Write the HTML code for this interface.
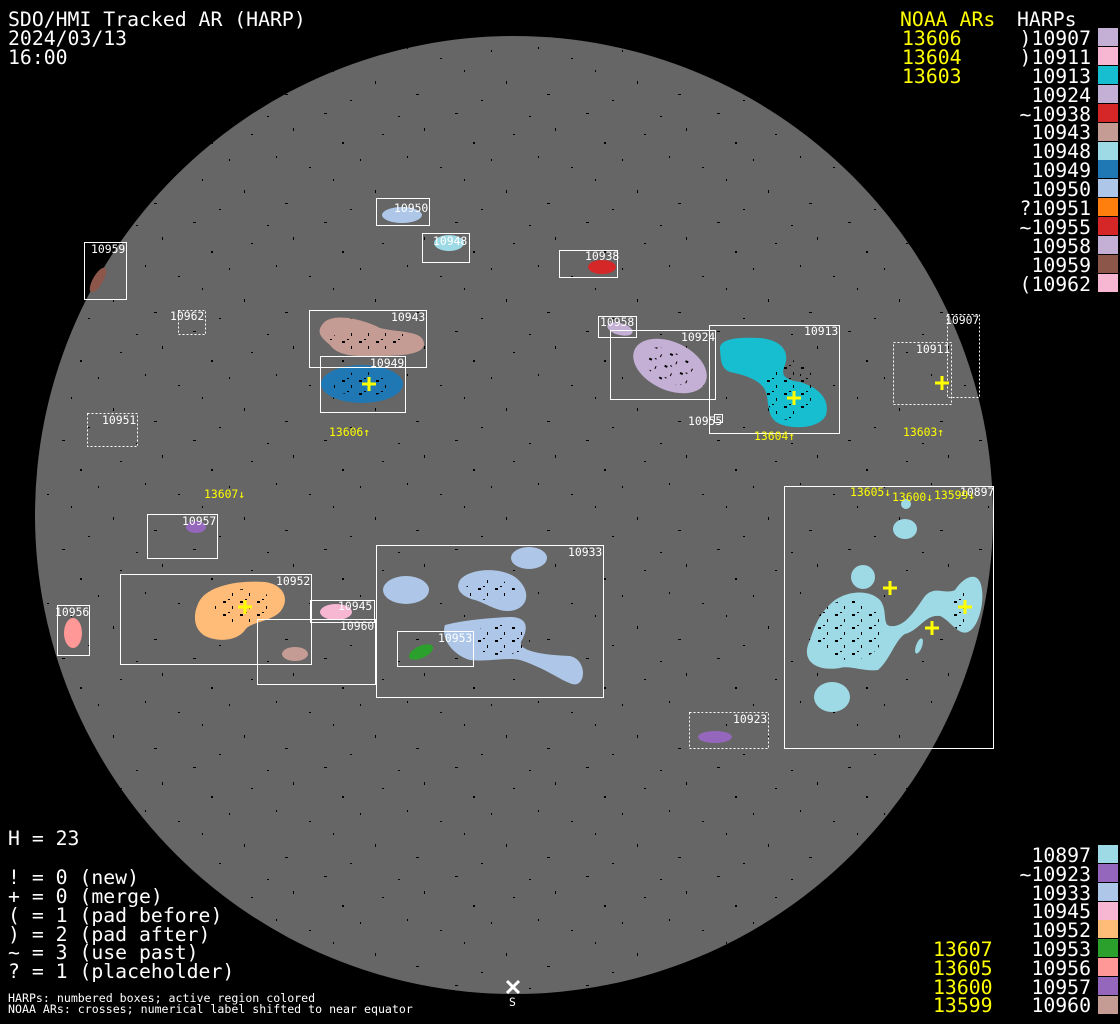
<!DOCTYPE html>
<html><head><meta charset="utf-8"><style>
html,body{margin:0;padding:0;background:#000;}
svg{display:block}
text{font-family:"DejaVu Sans Mono","Liberation Mono",monospace;}
.t{font-size:19.8px;fill:#fff}
.y{font-size:19.8px;fill:#ffff00}
.s{font-size:11.4px;fill:#fff}
.sm{font-size:11.6px;fill:#fff}
.sy{font-size:11.4px;fill:#ffff00}
.b{fill:none;stroke:#fff;stroke-width:1}
.d{fill:none;stroke:#fff;stroke-width:1;stroke-dasharray:2,2}
.x{stroke:#ffff00;stroke-width:3}
</style></head><body>
<svg width="1120" height="1024" viewBox="0 0 1120 1024" xmlns="http://www.w3.org/2000/svg">
<defs>
<pattern id="sp" x="0" y="0" width="131" height="109" patternUnits="userSpaceOnUse">
<rect x="5" y="7" width="2" height="1" fill="#000"/><rect x="31" y="19" width="1" height="3" fill="#000"/>
<rect x="62" y="4" width="3" height="1" fill="#000"/><rect x="80" y="33" width="2" height="2" fill="#000"/>
<rect x="14" y="47" width="1" height="2" fill="#000"/><rect x="47" y="58" width="2" height="1" fill="#000"/>
<rect x="71" y="70" width="1" height="2" fill="#000"/><rect x="23" y="94" width="3" height="1" fill="#000"/>
<rect x="113" y="81" width="1" height="3" fill="#000"/><rect x="120" y="25" width="2" height="1" fill="#000"/>
<rect x="98" y="50" width="1" height="2" fill="#000"/><rect x="88" y="100" width="2" height="1" fill="#000"/>
</pattern>
<pattern id="dk" x="0" y="0" width="17" height="13" patternUnits="userSpaceOnUse">
<rect x="2" y="3" width="3" height="2" fill="#000"/><rect x="11" y="8" width="1" height="3" fill="#000"/><rect x="7" y="1" width="2" height="1" fill="#000"/>
</pattern>
<clipPath id="dc"><circle cx="514" cy="515" r="479"/></clipPath>
</defs>
<rect width="1120" height="1024" fill="#000"/>
<circle cx="514" cy="515" r="479" fill="#666"/>
<rect x="0" y="0" width="1120" height="1024" fill="url(#sp)" clip-path="url(#dc)"/>

<g id="bl">
<ellipse cx="402" cy="215" rx="20" ry="8" fill="#aec7e8"/>
<ellipse cx="449" cy="243" rx="15" ry="8" fill="#9edae5"/>
<ellipse cx="98" cy="280" rx="5" ry="14" fill="#8c564b" transform="rotate(30 98 280)"/>
<ellipse cx="602" cy="267" rx="14" ry="7" fill="#d62728"/>
<path d="M322,325 C330,312 360,318 380,328 C400,333 425,330 424,345 C422,356 395,356 370,356 C345,357 335,352 330,345 C322,338 316,333 322,325Z" fill="#c49c94"/>
<ellipse cx="362" cy="384" rx="41" ry="19" fill="#1f77b4"/>
<ellipse cx="620" cy="329" rx="13" ry="6" fill="#c5b0d5" transform="rotate(15 620 329)"/>
<ellipse cx="670" cy="366" rx="39" ry="24" fill="#c5b0d5" transform="rotate(25 670 366)"/>
<path d="M720,350 C718,338 740,337 760,338 C780,340 790,350 785,365 C780,375 785,380 800,382 C820,388 830,400 826,415 C820,428 795,430 780,424 C765,418 770,400 765,390 C760,380 745,375 730,372 C720,368 721,358 720,350Z" fill="#17becf"/>
<ellipse cx="196" cy="527" rx="10" ry="6" fill="#9467bd"/>
<path d="M200,600 C210,585 240,580 265,582 C285,585 290,600 280,612 C270,622 250,622 245,630 C238,640 220,643 205,636 C192,628 193,612 200,600Z" fill="#ffbb78"/>
<ellipse cx="336" cy="612" rx="16" ry="8" fill="#f7b6d2"/>
<ellipse cx="295" cy="654" rx="13" ry="7" fill="#c49c94"/>
<ellipse cx="406" cy="590" rx="23" ry="14" fill="#aec7e8"/>
<path d="M460,580 C470,568 500,567 515,577 C530,588 530,605 515,610 C500,614 490,605 475,600 C460,596 455,588 460,580Z" fill="#aec7e8"/>
<ellipse cx="529" cy="558" rx="18" ry="11" fill="#aec7e8"/>
<path d="M445,625 C465,620 490,618 510,617 C525,617 530,625 522,640 C515,650 540,655 570,656 C588,660 586,688 572,684 C560,680 545,668 520,660 C505,657 490,662 470,660 C455,656 440,640 445,625Z" fill="#aec7e8"/>
<ellipse cx="421" cy="652" rx="13" ry="6" fill="#2ca02c" transform="rotate(-25 421 652)"/>
<ellipse cx="73" cy="633" rx="9" ry="15" fill="#ff9896"/>
<ellipse cx="715" cy="737" rx="17" ry="6" fill="#9467bd"/>
<ellipse cx="906" cy="504" rx="5" ry="5" fill="#9edae5"/>
<ellipse cx="905" cy="529" rx="12" ry="10" fill="#9edae5"/>
<ellipse cx="863" cy="577" rx="12" ry="12" fill="#9edae5"/>
<ellipse cx="832" cy="697" rx="18" ry="15" fill="#9edae5"/>
<ellipse cx="919" cy="646" rx="3" ry="8" fill="#9edae5" transform="rotate(20 919 646)"/>
<path d="M835,600 C850,590 870,590 880,600 C888,610 882,625 890,626 C905,628 915,610 925,596 C935,585 945,595 955,590 C965,575 980,570 982,590 C984,605 978,628 968,632 C958,636 950,620 940,616 C925,614 920,630 905,634 C895,640 890,660 878,670 C865,672 850,665 840,668 C815,672 800,660 810,640 C815,625 820,612 835,600Z" fill="#9edae5"/>
</g>
<!-- specks in active regions -->
<g fill="url(#dk)">
<ellipse cx="362" cy="384" rx="30" ry="12"/>
<ellipse cx="370" cy="340" rx="40" ry="10"/>
<ellipse cx="670" cy="366" rx="28" ry="16" transform="rotate(25 670 366)"/>
<ellipse cx="790" cy="390" rx="25" ry="30"/>
<ellipse cx="245" cy="607" rx="30" ry="18"/>
<ellipse cx="500" cy="640" rx="30" ry="15"/>
<ellipse cx="490" cy="590" rx="25" ry="10"/>
<ellipse cx="850" cy="630" rx="35" ry="30"/>
<ellipse cx="960" cy="610" rx="10" ry="20"/>
</g>

<!-- boxes -->
<rect class="b" x="376.5" y="198.5" width="53" height="27"/>
<rect class="b" x="422.5" y="233.5" width="47" height="29"/>
<rect class="b" x="84.5" y="242.5" width="42" height="57"/>
<rect class="b" x="559.5" y="250.5" width="58" height="27"/>
<rect class="d" x="178.5" y="310.5" width="27" height="24"/>
<rect class="b" x="309.5" y="310.5" width="117" height="57"/>
<rect class="b" x="320.5" y="356.5" width="85" height="56"/>
<rect class="b" x="598.5" y="316.5" width="38" height="21"/>
<rect class="b" x="610.5" y="330.5" width="105" height="69"/>
<rect class="b" x="709.5" y="325.5" width="130" height="108"/>
<rect class="d" x="947.5" y="314.5" width="32" height="83"/>
<rect class="d" x="893.5" y="342.5" width="58" height="62"/>
<rect class="d" x="87.5" y="413.5" width="50" height="33"/>
<rect class="b" x="714.5" y="414.5" width="8" height="8"/>
<rect class="b" x="147.5" y="514.5" width="70" height="44"/>
<rect class="b" x="120.5" y="574.5" width="191" height="90"/>
<rect class="b" x="310.5" y="600.5" width="64" height="22"/>
<rect class="b" x="257.5" y="619.5" width="118" height="65"/>
<rect class="b" x="376.5" y="545.5" width="227" height="152"/>
<rect class="b" x="397.5" y="631.5" width="76" height="35"/>
<rect class="b" x="57.5" y="605.5" width="32" height="50"/>
<rect class="d" x="689.5" y="712.5" width="79" height="36"/>
<rect class="b" x="784.5" y="486.5" width="209" height="262"/>

<g class="s">
<text x="394" y="212">10950</text><text x="433" y="245">10948</text>
<text x="91" y="253">10959</text><text x="585" y="260">10938</text>
<text x="170" y="320">10962</text><text x="391" y="321">10943</text>
<text x="370" y="367">10949</text><text x="600" y="326">10958</text>
<text x="681" y="341">10924</text><text x="804" y="335">10913</text>
<text x="945" y="324">10907</text><text x="916" y="353">10911</text>
<text x="102" y="424">10951</text><text x="688" y="425">10955</text>
<text x="182" y="525">10957</text><text x="276" y="585">10952</text>
<text x="338" y="610">10945</text><text x="340" y="630">10960</text>
<text x="568" y="556">10933</text><text x="438" y="642">10953</text>
<text x="55" y="616">10956</text><text x="733" y="723">10923</text>
<text x="960" y="496">10897</text>
</g>

<g class="x">
<path d="M362,384h14M369,377v14"/><path d="M787,398h14M794,391v14"/>
<path d="M935,383h14M942,376v14"/><path d="M238,607h14M245,600v14"/>
<path d="M883,588h14M890,581v14"/><path d="M958,607h14M965,600v14"/>
<path d="M925,628h14M932,621v14"/>
</g>
<g class="sy">
<text x="329" y="436">13606↑</text><text x="754" y="440">13604↑</text>
<text x="903" y="436">13603↑</text><text x="204" y="498">13607↓</text>
<text x="850" y="496">13605↓</text><text x="892" y="501">13600↓</text>
<text x="934" y="499">13599↓</text>
</g>

<path d="M507,981l12,12M519,981l-12,12" stroke="#fff" stroke-width="3"/>
<text class="s" x="509" y="1006">S</text>

<text class="t" x="8" y="26">SDO/HMI Tracked AR (HARP)</text>
<text class="t" x="8" y="45">2024/03/13</text>
<text class="t" x="8" y="64">16:00</text>

<text class="y" x="900" y="26">NOAA ARs</text>
<text class="y" x="902" y="45">13606</text>
<text class="y" x="902" y="64">13604</text>
<text class="y" x="902" y="83">13603</text>
<text class="t" x="1017" y="26">HARPs</text>
<g class="t" text-anchor="end">
<text x="1091" y="45">)10907</text><text x="1091" y="64">)10911</text>
<text x="1091" y="83">10913</text><text x="1091" y="102">10924</text>
<text x="1091" y="121">~10938</text><text x="1091" y="139">10943</text>
<text x="1091" y="158">10948</text><text x="1091" y="177">10949</text>
<text x="1091" y="196">10950</text><text x="1091" y="215">?10951</text>
<text x="1091" y="234">~10955</text><text x="1091" y="253">10958</text>
<text x="1091" y="272">10959</text><text x="1091" y="291">(10962</text>
</g>
<rect x="1098" y="28" width="20" height="18" fill="#c5b0d5"/>
<rect x="1098" y="47" width="20" height="18" fill="#f7b6d2"/>
<rect x="1098" y="66" width="20" height="18" fill="#17becf"/>
<rect x="1098" y="85" width="20" height="18" fill="#c5b0d5"/>
<rect x="1098" y="104" width="20" height="18" fill="#d62728"/>
<rect x="1098" y="123" width="20" height="18" fill="#c49c94"/>
<rect x="1098" y="142" width="20" height="18" fill="#9edae5"/>
<rect x="1098" y="160" width="20" height="18" fill="#1f77b4"/>
<rect x="1098" y="179" width="20" height="18" fill="#aec7e8"/>
<rect x="1098" y="198" width="20" height="18" fill="#ff7f0e"/>
<rect x="1098" y="217" width="20" height="18" fill="#d62728"/>
<rect x="1098" y="236" width="20" height="18" fill="#c5b0d5"/>
<rect x="1098" y="255" width="20" height="18" fill="#8c564b"/>
<rect x="1098" y="274" width="20" height="18" fill="#f7b6d2"/>

<g class="t" text-anchor="end">
<text x="1091" y="862">10897</text><text x="1091" y="881">~10923</text>
<text x="1091" y="900">10933</text><text x="1091" y="918">10945</text>
<text x="1091" y="937">10952</text><text x="1091" y="956">10953</text>
<text x="1091" y="975">10956</text><text x="1091" y="994">10957</text>
<text x="1091" y="1012">10960</text>
</g>
<g class="y">
<text x="933" y="956">13607</text><text x="933" y="975">13605</text>
<text x="933" y="994">13600</text><text x="933" y="1012">13599</text>
</g>
<rect x="1098" y="845" width="20" height="18" fill="#9edae5"/>
<rect x="1098" y="864" width="20" height="18" fill="#9467bd"/>
<rect x="1098" y="883" width="20" height="18" fill="#aec7e8"/>
<rect x="1098" y="902" width="20" height="18" fill="#f7b6d2"/>
<rect x="1098" y="920" width="20" height="18" fill="#ffbb78"/>
<rect x="1098" y="939" width="20" height="18" fill="#2ca02c"/>
<rect x="1098" y="958" width="20" height="18" fill="#ff9896"/>
<rect x="1098" y="977" width="20" height="18" fill="#9467bd"/>
<rect x="1098" y="996" width="20" height="18" fill="#c49c94"/>

<g class="t">
<text x="8" y="845">H = 23</text>
<text x="8" y="884">! = 0 (new)</text>
<text x="8" y="903">+ = 0 (merge)</text>
<text x="8" y="922">( = 1 (pad before)</text>
<text x="8" y="941">) = 2 (pad after)</text>
<text x="8" y="959">~ = 3 (use past)</text>
<text x="8" y="978">? = 1 (placeholder)</text>
</g>
<text class="sm" x="8" y="1002">HARPs: numbered boxes; active region colored</text>
<text class="sm" x="8" y="1013">NOAA ARs: crosses; numerical label shifted to near equator</text>
</svg>
</body></html>
